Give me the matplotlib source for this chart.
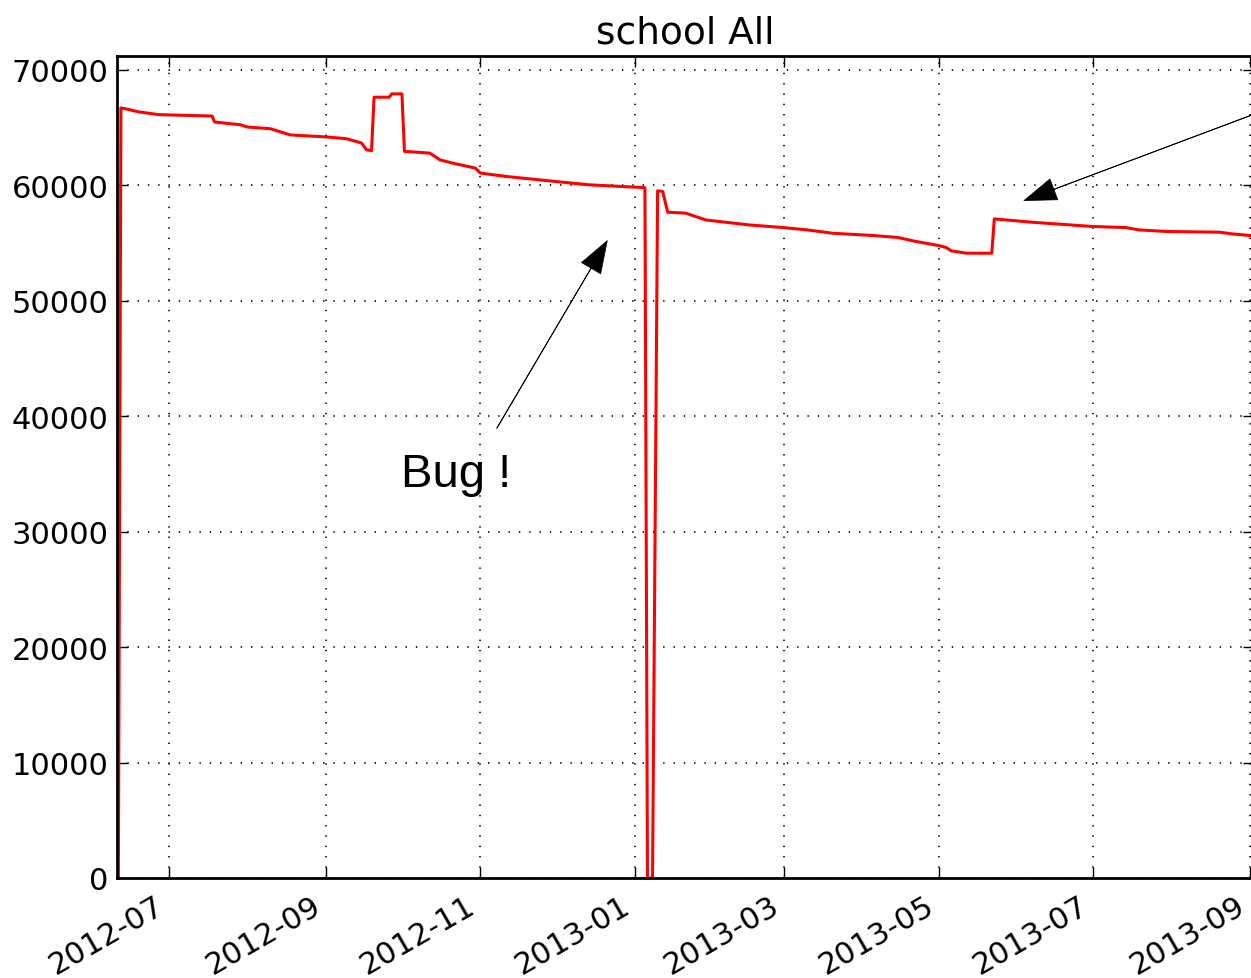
import numpy as np
import pandas as pd
import matplotlib
matplotlib.use("Agg")
import matplotlib.pyplot as plt
import matplotlib.dates as mdates

# values (daily school count)
dates = pd.to_datetime([
    "2012-06-11", "2012-06-12", "2012-06-14", "2012-06-19", "2012-06-27",
    "2012-07-18", "2012-07-19", "2012-07-29", "2012-08-01", "2012-08-10",
    "2012-08-18", "2012-09-01", "2012-09-09", "2012-09-15", "2012-09-17",
    "2012-09-19", "2012-09-20", "2012-09-26", "2012-09-27", "2012-10-01",
    "2012-10-02", "2012-10-12", "2012-10-16", "2012-10-21", "2012-10-30",
    "2012-11-01", "2012-11-11", "2012-11-28", "2012-12-14", "2013-01-04",
    "2013-01-05", "2013-01-06", "2013-01-08", "2013-01-10", "2013-01-12",
    "2013-01-14", "2013-01-21", "2013-01-25", "2013-01-29", "2013-02-15",
    "2013-02-28", "2013-03-10", "2013-03-20", "2013-04-05", "2013-04-15",
    "2013-04-21", "2013-05-01", "2013-05-04", "2013-05-06", "2013-05-12",
    "2013-05-22", "2013-05-23", "2013-06-07", "2013-07-01", "2013-07-14",
    "2013-07-19", "2013-07-30", "2013-08-20", "2013-08-25", "2013-09-01",
    "2013-09-03",
])
counts = [
    0, 66700, 66620, 66360, 66120,
    66000, 65480, 65250, 65050, 64900,
    64360, 64190, 64040, 63670, 63080,
    63000, 67630, 67630, 67920, 67920,
    62940, 62790, 62210, 61920, 61490,
    61060, 60770, 60390, 60040, 59810,
    59790, 0, 0, 59520, 59470,
    57670, 57590, 57300, 57000, 56570,
    56350, 56140, 55850, 55650, 55480,
    55180, 54780, 54610, 54320, 54120,
    54120, 57090, 56800, 56430, 56340,
    56140, 56000, 55940, 55790, 55650,
    55600,
]

fig = plt.figure(figsize=(12.51, 9.79), dpi=100)
ax = fig.add_axes([117 / 1251, 100 / 979, 1137 / 1251, 822 / 979])

ax.plot(dates, counts, color="#ff0000", lw=2.2)

ax.set_xlim(pd.Timestamp("2012-06-10 11:00"), pd.Timestamp("2013-09-02 14:00"))
ax.set_ylim(0, 71200)
ax.set_yticks(np.arange(0, 70001, 10000))
ax.xaxis.set_major_locator(mdates.MonthLocator(bymonth=[1, 3, 5, 7, 9, 11]))
ax.xaxis.set_major_formatter(mdates.DateFormatter("%Y-%m"))

# sparse dotted grid like the old classic style
ax.grid(True, color="#222222", lw=1.4, linestyle=(0, (0.7, 4.6)))
ax.tick_params(direction="in", top=True, right=True, length=8, width=1,
               labelsize=22)
ax.tick_params(axis="x", pad=9)
ax.tick_params(axis="y", pad=6)
for lbl in ax.get_xticklabels():
    lbl.set_rotation(30)
    lbl.set_ha("right")
for sp in ax.spines.values():
    sp.set_linewidth(2)

ax.set_title("school All", fontsize=27, pad=10)

arrow = dict(facecolor="black", edgecolor="black", width=0.3, lw=0.5,
             headwidth=16, headlength=23, shrink=0)
ax.text(pd.Timestamp("2012-09-30 11:00"), 33960, "Bug !",
        fontsize=34, family="Liberation Sans", ha="left", va="baseline")
ax.annotate("", xy=(pd.Timestamp("2012-12-21 03:00"), 55205),
            xytext=(pd.Timestamp("2012-11-07 12:00"), 38960),
            arrowprops=arrow)
ax.annotate("", xy=(pd.Timestamp("2013-06-03 17:00"), 58676),
            xytext=(pd.Timestamp("2013-09-20 19:00"), 67660),
            arrowprops=arrow, annotation_clip=False)

fig.savefig("out.png", dpi=100)
